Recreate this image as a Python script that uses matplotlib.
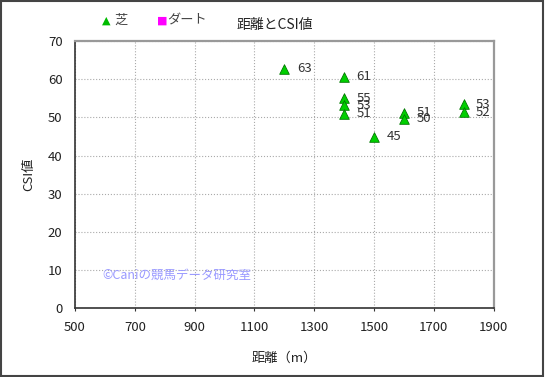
import matplotlib
matplotlib.use("Agg")
import matplotlib.pyplot as plt
from matplotlib.patches import Rectangle

plt.rcParams['font.family'] = ['Noto Sans CJK JP', 'DejaVu Sans']

# Data
turf_dist = [1200, 1400, 1400, 1400, 1400, 1500, 1600, 1600, 1800, 1800]
turf_csi = [63, 61, 55, 53, 51, 45, 51, 50, 53, 52]
turf_pos = [62.8, 60.6, 55.0, 53.2, 51.0, 45.0, 51.2, 49.6, 53.4, 51.4]
dirt_dist = []
dirt_csi = []
xticks = [500, 700, 900, 1100, 1300, 1500, 1700, 1900]
yticks = [0, 10, 20, 30, 40, 50, 60, 70]

fig = plt.figure(figsize=(5.45, 3.77), dpi=100)
fig.patches.append(Rectangle((0.002, 0.003), 0.995, 0.994, transform=fig.transFigure,
                             fill=False, edgecolor='#444444', linewidth=1.5))
ax = fig.add_axes([0.1376, 0.1817, 0.768, 0.7095])
ax.set_xlim(500, 1900)
ax.set_ylim(0, 70)
ax.set_xticks(xticks)
ax.set_yticks(yticks)
ax.grid(True, color='#aaaaaa', linestyle=':', linewidth=0.8)
ax.set_axisbelow(True)
ax.tick_params(labelsize=9.5, labelcolor='#222222')
ax.tick_params(axis='x', length=2, color='#333333', pad=7)
ax.tick_params(axis='y', length=0, pad=9)
for s in ['left', 'bottom']:
    ax.spines[s].set_color('#333333')
    ax.spines[s].set_linewidth(1.2)
for s in ['top', 'right']:
    ax.spines[s].set_color('#999999')
    ax.spines[s].set_linewidth(1.6)

ax.scatter(turf_dist, turf_pos, marker='^', s=48, facecolor='#00d000',
           edgecolor='#007700', linewidth=0.6, zorder=3)
ax.scatter(dirt_dist, dirt_csi, marker='s', s=30, facecolor='#ff00ff', zorder=3)
for x, y, v in zip(turf_dist, turf_pos, turf_csi):
    ax.annotate(str(v), (x, y), xytext=(9, 0), textcoords='offset points',
                va='center', ha='left', fontsize=9.5, color='#333333')

ax.set_xlabel('距離（m）', fontsize=9.5, color='#222222', labelpad=13)
ax.set_ylabel('CSI値', fontsize=9.5, color='#222222', labelpad=9)
ax.text(0.065, 0.125, '©Caniの競馬データ研究室', transform=ax.transAxes,
        fontsize=9, color='#9a9aff', va='center')

fig.text(0.504, 0.935, '距離とCSI値', fontsize=10, ha='center', va='center', color='#222222')
fig.text(0.188, 0.945, '▲', fontsize=8, color='#00bb00', ha='left', va='center',
         family=['DejaVu Sans'])
fig.text(0.210, 0.945, '芝', fontsize=9.5, color='#444444', ha='left', va='center')
fig.text(0.288, 0.945, '■', fontsize=8, color='#ff00ff', ha='left', va='center',
         family=['DejaVu Sans'])
fig.text(0.306, 0.945, 'ダート', fontsize=9.5, color='#444444', ha='left', va='center')

fig.savefig('out.png', dpi=100)
